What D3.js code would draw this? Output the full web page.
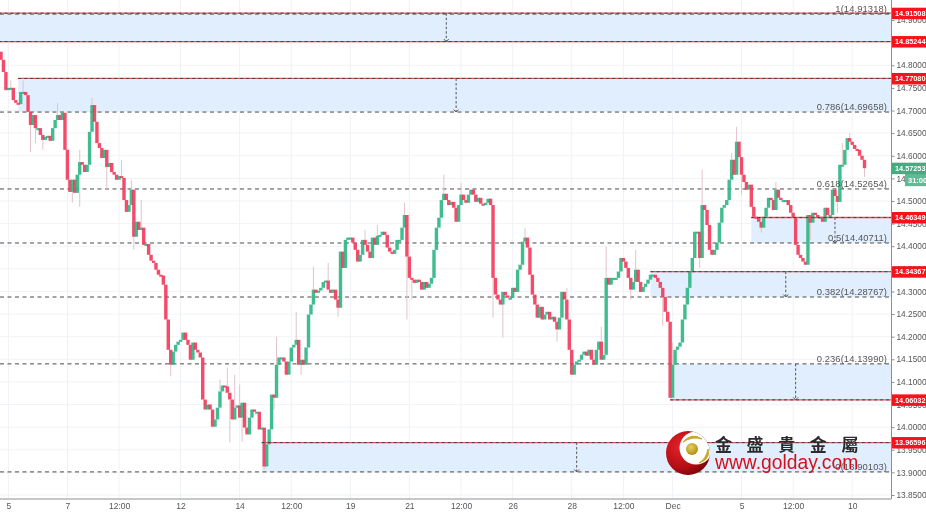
<!DOCTYPE html>
<html><head><meta charset="utf-8">
<script src="https://cdn.jsdelivr.net/npm/d3@7"></script>
<style>
html,body{margin:0;padding:0;background:#fff;overflow:hidden}
svg{display:block}
text{font-family:"Liberation Sans",Arial,sans-serif}
</style></head><body>
<svg id="c" width="926" height="518"></svg>
<script>
const closes=[14.812,14.785,14.745,14.750,14.750,14.723,14.717,14.714,14.741,14.741,
14.734,14.697,14.668,14.690,14.661,14.661,14.646,14.635,14.642,14.644,
14.633,14.661,14.679,14.690,14.679,14.695,14.613,14.547,14.520,14.547,
14.518,14.558,14.586,14.580,14.564,14.580,14.653,14.712,14.675,14.628,
14.617,14.595,14.613,14.575,14.584,14.564,14.558,14.547,14.555,14.551,
14.502,14.476,14.491,14.525,14.421,14.454,14.436,14.441,14.403,14.405,
14.381,14.368,14.363,14.348,14.337,14.335,14.315,14.238,14.171,14.138,
14.167,14.182,14.189,14.193,14.209,14.193,14.182,14.149,14.187,14.171,
14.165,14.154,14.061,14.039,14.050,14.039,14.001,14.017,14.043,14.079,
14.092,14.090,14.076,14.061,14.017,14.043,14.048,14.021,14.054,13.999,
13.984,14.021,14.039,14.034,14.034,13.995,13.999,13.913,13.962,13.995,
14.072,14.065,14.138,14.154,14.154,14.145,14.116,14.145,14.176,14.182,
14.193,14.138,14.149,14.138,14.176,14.249,14.271,14.304,14.297,14.302,
14.308,14.321,14.324,14.304,14.297,14.304,14.282,14.264,14.388,14.352,
14.414,14.419,14.419,14.408,14.392,14.366,14.381,14.414,14.403,14.388,
14.374,14.419,14.403,14.423,14.425,14.432,14.425,14.397,14.388,14.383,
14.392,14.414,14.414,14.441,14.469,14.377,14.330,14.326,14.319,14.326,
14.321,14.304,14.321,14.308,14.317,14.330,14.392,14.441,14.463,14.502,
14.516,14.502,14.491,14.498,14.485,14.454,14.491,14.514,14.502,14.496,
14.514,14.525,14.514,14.498,14.507,14.494,14.491,14.496,14.505,14.491,
14.330,14.293,14.282,14.271,14.299,14.291,14.286,14.286,14.308,14.299,
14.348,14.359,14.410,14.419,14.397,14.337,14.293,14.271,14.242,14.266,
14.238,14.249,14.255,14.238,14.244,14.233,14.216,14.242,14.299,14.282,
14.238,14.171,14.116,14.138,14.145,14.149,14.160,14.167,14.158,14.171,
14.149,14.138,14.171,14.189,14.149,14.160,14.330,14.315,14.330,14.330,
14.330,14.344,14.374,14.366,14.352,14.330,14.304,14.321,14.348,14.321,
14.299,14.310,14.317,14.326,14.337,14.337,14.330,14.321,14.308,14.288,
14.255,14.233,14.065,14.138,14.171,14.178,14.187,14.238,14.271,14.308,
14.344,14.374,14.432,14.432,14.374,14.491,14.480,14.447,14.392,14.381,
14.392,14.408,14.452,14.485,14.491,14.502,14.547,14.591,14.558,14.631,
14.597,14.558,14.542,14.525,14.536,14.487,14.465,14.463,14.454,14.441,
14.465,14.485,14.507,14.502,14.480,14.525,14.507,14.502,14.502,14.502,
14.491,14.474,14.463,14.403,14.381,14.374,14.366,14.359,14.469,14.452,
14.474,14.469,14.465,14.465,14.454,14.485,14.469,14.469,14.525,14.511,
14.498,14.580,14.580,14.613,14.639,14.631,14.624,14.615,14.613,14.600,
14.591,14.5725];
const firstOpen=14.83;

const highBars=[4,9,23,32,37,49,53,57,89,92,95,97,112,120,127,133,148,153,164,180,187,213,230,244,246,258,273,285,297,299,315,342,345];
const highVals=[14.767,14.767,14.717,14.613,14.728,14.591,14.547,14.502,14.105,14.132,14.116,14.094,14.200,14.255,14.355,14.363,14.436,14.447,14.496,14.558,14.540,14.441,14.308,14.222,14.399,14.392,14.187,14.569,14.606,14.664,14.542,14.628,14.650];
const lowBars=[12,14,17,29,32,43,54,69,93,98,107,111,122,137,165,167,200,204,226,256,269,284,301,309,329,340,351];
const lowVals=[14.608,14.628,14.613,14.496,14.487,14.525,14.392,14.112,13.966,13.968,13.906,14.039,14.116,14.244,14.238,14.282,14.242,14.198,14.189,14.282,14.224,14.352,14.514,14.430,14.414,14.474,14.553];

const dateBars=[3,27,48,73,97,118,142,166,187,208,232,253,273,301,322,346];
const dateLabels=["5","7","12:00","12","14","12:00","19","21","12:00","26","28","12:00","Dec","5","12:00","10"];
const priceTicks=[14.9,14.85,14.8,14.75,14.7,14.65,14.6,14.55,14.5,14.45,14.4,14.35,14.3,14.25,14.2,14.15,14.1,14.05,14,13.95,13.9,13.85];

const zoneTops=[14.91508,14.7708,14.46349,14.34367,14.1399,13.96596];
const zoneBottoms=[14.85244,14.69658,14.40711,14.28767,14.06032,13.90103];
const zoneStartBars=[-1,7,305,264,272,106];
const zoneArrowBars=[181,185,339,319,323,234];

const redLevels=[14.91508,14.85244,14.7708,14.46349,14.34367,14.06032,13.96596];
const redStartBars=[-1,-1,7,305,264,272,106];
const fibRatios=["1","0.786","0.618","0.5","0.382","0.236","0"];
const fibLevels=[14.91318,14.69658,14.52654,14.40711,14.28767,14.1399,13.90103];
const currentPrice=14.57253;
const countdown="31:00";
const brandCn=["金","盛","貴","金","屬"];
const brandUrl="www.golday.com";

const W=926,H=518,axisX=891,axisY=499;
const svg=d3.select("#c");
const x=d3.scaleLinear().domain([0,closes.length-1]).range([1,864.5]);
const y=d3.scaleLinear().domain([13.85,14.7]).range([495,110.5]);

const defs=svg.append("defs");
defs.append("clipPath").attr("id","plot").append("rect").attr("width",axisX).attr("height",axisY);
defs.append("clipPath").attr("id","ballClip").append("circle").attr("cx",688).attr("cy",453).attr("r",22);
const soft=defs.append("filter").attr("id","soft").attr("x","-5%").attr("y","-5%").attr("width","110%").attr("height","110%");
soft.append("feGaussianBlur").attr("stdDeviation",0.3);
const rg=defs.append("radialGradient").attr("id","ball").attr("cx","35%").attr("cy","35%").attr("r","75%");
rg.append("stop").attr("offset","0").attr("stop-color","#e8232b");
rg.append("stop").attr("offset","0.65").attr("stop-color","#b30d14");
rg.append("stop").attr("offset","1").attr("stop-color","#6e0407");
const gg=defs.append("radialGradient").attr("id","gold").attr("cx","40%").attr("cy","35%").attr("r","70%");
gg.append("stop").attr("offset","0").attr("stop-color","#e8d060");
gg.append("stop").attr("offset","1").attr("stop-color","#a98a10");

const plot=svg.append("g").attr("clip-path","url(#plot)");

// grid
plot.append("g").selectAll("line").data(dateBars).join("line")
 .attr("x1",d=>x(d)).attr("x2",d=>x(d)).attr("y1",0).attr("y2",axisY)
 .attr("stroke","#eff2f6").attr("stroke-width",1);
plot.append("g").selectAll("line").data(priceTicks).join("line")
 .attr("x1",0).attr("x2",axisX).attr("y1",d=>y(d)).attr("y2",d=>y(d))
 .attr("stroke","#f1f3f6").attr("stroke-width",1);

// zones
plot.append("g").selectAll("rect").data(zoneTops).join("rect")
 .attr("x",(d,i)=>x(zoneStartBars[i])).attr("width",(d,i)=>axisX-x(zoneStartBars[i]))
 .attr("y",d=>y(d)).attr("height",(d,i)=>y(zoneBottoms[i])-y(d))
 .attr("fill","#e1eefd");

// fib levels
plot.append("g").selectAll("line").data(fibLevels).join("line")
 .attr("x1",0).attr("x2",axisX-2).attr("y1",d=>y(d)).attr("y2",d=>y(d))
 .attr("stroke","#4a4a4a").attr("stroke-width",1).attr("stroke-dasharray","4,3.5");

// candles
const opens=closes.map((c,i)=>i?closes[i-1]:firstOpen);
const upCol="#2bb583",dnCol="#f2375a";
const cg=plot.append("g").attr("filter","url(#soft)");
cg.append("g").selectAll("line").data(highBars).join("line")
 .attr("x1",d=>x(d)).attr("x2",d=>x(d))
 .attr("y1",(d,i)=>y(highVals[i])).attr("y2",d=>y(Math.max(opens[d],closes[d])))
 .attr("stroke","#e3c3c9").attr("stroke-width",1);
cg.append("g").selectAll("line").data(lowBars).join("line")
 .attr("x1",d=>x(d)).attr("x2",d=>x(d))
 .attr("y1",(d,i)=>y(lowVals[i])).attr("y2",d=>y(Math.min(opens[d],closes[d])))
 .attr("stroke","#e3c3c9").attr("stroke-width",1);
cg.append("g").selectAll("rect").data(closes).join("rect")
 .attr("x",(d,i)=>x(i)-1.7).attr("width",3.4)
 .attr("y",(d,i)=>y(Math.max(d,opens[i])))
 .attr("height",(d,i)=>Math.max(2,Math.abs(y(d)-y(opens[i]))))
 .attr("fill",(d,i)=>d>=opens[i]?upCol:dnCol)
 .attr("opacity",0.9);

// red level lines
const rl=plot.append("g");
redLevels.forEach((v,i)=>{
  rl.append("line").attr("x1",x(redStartBars[i])).attr("x2",axisX).attr("y1",y(v)).attr("y2",y(v))
    .attr("stroke","#dd5560").attr("stroke-width",1.3);
  rl.append("line").attr("x1",x(redStartBars[i])).attr("x2",axisX).attr("y1",y(v)).attr("y2",y(v))
    .attr("stroke","#553a3a").attr("stroke-width",1).attr("stroke-dasharray","3,3");
});

// zone arrows
const ar=plot.append("g");
zoneArrowBars.forEach((b,i)=>{
  const px=x(b),t=y(zoneTops[i]),bo=y(zoneBottoms[i]);
  ar.append("line").attr("x1",px).attr("x2",px).attr("y1",t).attr("y2",bo)
    .attr("stroke","#555").attr("stroke-width",1).attr("stroke-dasharray","2.5,2");
  ar.append("path").attr("d",`M${px-2.5},${bo-2.5}L${px},${bo}L${px+2.5},${bo-2.5}`)
    .attr("fill","none").attr("stroke","#555");
});

// fib labels
plot.append("g").selectAll("text").data(fibLevels).join("text")
 .attr("x",887).attr("y",d=>y(d)-2)
 .attr("text-anchor","end").attr("font-size",9.4).attr("fill","#555").attr("letter-spacing","0.1")
 .text((d,i)=>`${fibRatios[i]}(${d.toFixed(5)})`);

// axes
const axR=svg.append("g").attr("transform",`translate(${axisX+0.5},0)`)
 .call(d3.axisRight(y).tickValues(priceTicks).tickSize(3).tickPadding(2).tickFormat(d3.format(".5f")));
axR.select(".domain").attr("stroke","#8a8f94").attr("d",`M0,0V${axisY}`);
axR.selectAll(".tick line").attr("stroke","#8a8f94");
axR.selectAll("text").attr("font-size",8.3).attr("fill","#555").attr("font-family","Liberation Sans");
const axB=svg.append("g").attr("transform",`translate(0,${axisY})`)
 .call(d3.axisBottom(x).tickValues(dateBars).tickSize(0).tickPadding(4).tickFormat((d,i)=>dateLabels[i]));
axB.select(".domain").attr("stroke","#8a8f94").attr("d",`M0,0H${axisX}`);
axB.selectAll("text").attr("font-size",8.5).attr("fill","#555").attr("font-family","Liberation Sans");

// price tags
const tags=svg.append("g");
redLevels.forEach(v=>{
  tags.append("rect").attr("x",axisX+1).attr("y",y(v)-5.5).attr("width",W-axisX).attr("height",11.5).attr("fill","#f5141c");
  tags.append("text").attr("x",895).attr("y",y(v)+2.8).attr("font-size",7.3).attr("font-weight","bold").attr("fill","#fff").text(v.toFixed(5));
});
tags.append("rect").attr("x",905).attr("y",y(currentPrice)+5).attr("width",21).attr("height",13).attr("fill","#5cbd95");
tags.append("text").attr("x",908).attr("y",y(currentPrice)+14.5).attr("font-size",7.5).attr("font-weight","bold").attr("fill","#fff").text(countdown);
tags.append("rect").attr("x",axisX+1).attr("y",y(currentPrice)-5.5).attr("width",W-axisX).attr("height",11.5).attr("fill","#43ad80");
tags.append("text").attr("x",895).attr("y",y(currentPrice)+2.8).attr("font-size",7.3).attr("font-weight","bold").attr("fill","#fff").text(currentPrice.toFixed(5));

// logo
const logo=svg.append("g");
logo.append("circle").attr("cx",688).attr("cy",453).attr("r",22).attr("fill","url(#ball)");
logo.append("circle").attr("cx",696).attr("cy",448).attr("r",16.5).attr("fill","#fff").attr("clip-path","url(#ballClip)");
logo.append("circle").attr("cx",692).attr("cy",449).attr("r",6).attr("fill","url(#gold)");
logo.append("path").attr("d","M683,442Q692,432 702,439Q692,436 683,442Z").attr("fill","#c9a92a").attr("stroke","#c9a92a");
logo.append("path").attr("d","M699,463Q706,459 708,449Q711,459 699,463Z").attr("fill","#c9a92a").attr("stroke","#c9a92a");
logo.append("g").selectAll("text").data(brandCn).join("text")
 .attr("x",(d,i)=>715+i*31.6).attr("y",451).attr("font-size",17).attr("fill","#2b2b2b")
 .style("font-family",'"Noto Sans CJK TC"').attr("font-weight","bold").text(d=>d);
logo.append("text").attr("x",715).attr("y",469).attr("font-size",19.3).attr("fill","#d40f1c")
 .style("font-family",'"Liberation Sans"').text(brandUrl);
</script>
</body></html>
